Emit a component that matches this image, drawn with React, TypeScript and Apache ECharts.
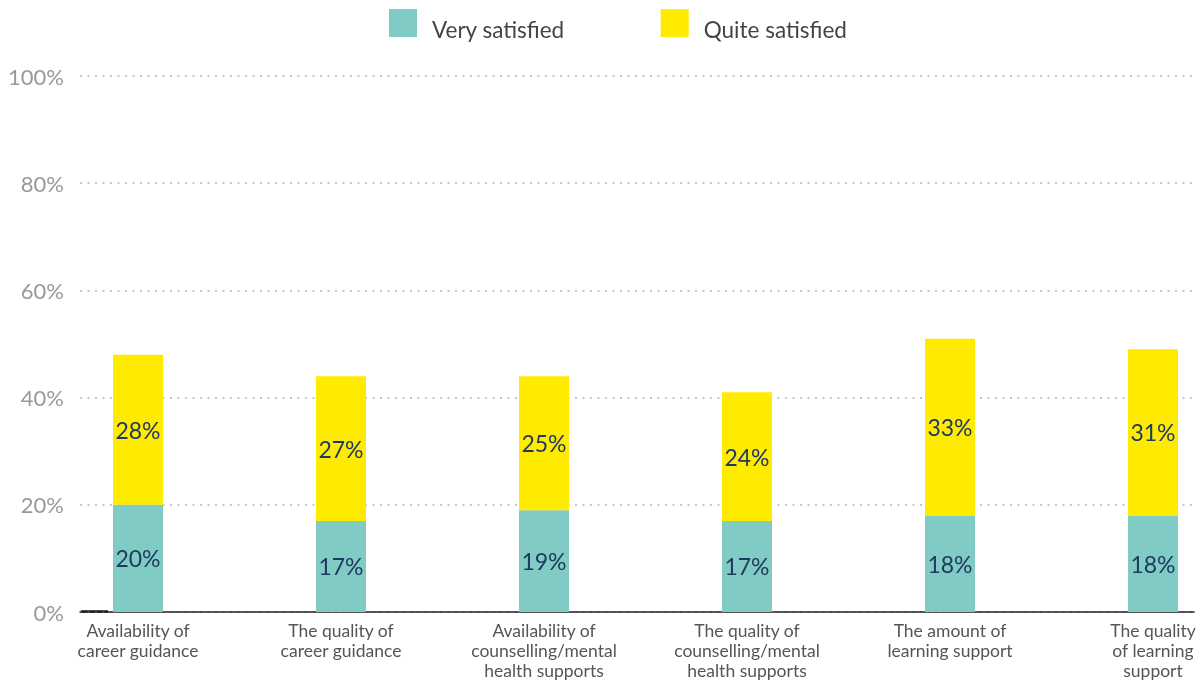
import React, { useEffect, useRef } from "react";
import * as echarts from "echarts";

const categories = [
  "Availability of\ncareer guidance",
  "The quality of\ncareer guidance",
  "Availability of\ncounselling/mental\nhealth supports",
  "The quality of\ncounselling/mental\nhealth supports",
  "The amount of\nlearning support",
  "The quality\nof learning\nsupport",
];
const verySatisfied = [20, 17, 19, 17, 18, 18];
const quiteSatisfied = [28, 27, 25, 24, 33, 31];
const yTicks = [0, 20, 40, 60, 80, 100];

const FONT = "Lato, 'Noto Sans', sans-serif";

export default function App() {
  const ref = useRef<HTMLDivElement>(null);
  useEffect(() => {
    if (!ref.current) return;
    const chart = echarts.init(ref.current, undefined, { renderer: "svg" });
    const labelStyle = {
      show: true,
      position: "inside" as const,
      formatter: "{c}%",
      color: "#1F3A60",
      fontSize: 23,
      fontFamily: FONT,
    };
    const yMin = yTicks[0];
    const yMax = yTicks[yTicks.length - 1];
    chart.setOption({
      animation: false,
      textStyle: { fontFamily: FONT },
      legend: {
        top: 4,
        left: 384,
        itemWidth: 28,
        itemHeight: 28,
        itemGap: 96,
        icon: "rect",
        formatter: "{t|{name}}",
        textStyle: {
          fontSize: 22.5,
          color: "#444",
          fontFamily: FONT,
          rich: {
            t: {
              fontSize: 22.5,
              color: "#444",
              fontFamily: FONT,
              padding: [12, 0, 0, 10],
            },
          },
        },
        data: ["Very satisfied", "Quite satisfied"],
      },
      grid: [
        {
          left: 80,
          right: 8,
          top: 76,
          bottom: 70,
          containLabel: false,
          outerBoundsMode: "none",
        },
        {
          left: 36.5,
          width: 1218,
          top: 76,
          height: 536,
          containLabel: false,
          outerBoundsMode: "none",
        },
      ],
      xAxis: [
        {
          type: "category",
          gridIndex: 0,
          data: [""],
          axisTick: { show: false },
          axisLabel: { show: false },
          axisLine: { show: true, lineStyle: { color: "#222", width: 1.5 } },
        },
        {
          type: "category",
          gridIndex: 1,
          data: categories,
          axisTick: { show: false },
          axisLine: { show: false },
          axisLabel: {
            interval: 0,
            color: "#555",
            fontSize: 17.5,
            lineHeight: 20,
            margin: 8,
            fontFamily: FONT,
          },
        },
      ],
      yAxis: [
        {
          type: "value",
          gridIndex: 0,
          min: yMin,
          max: yMax,
          interval: 20,
          axisLine: { show: false },
          axisTick: { show: false },
          axisLabel: {
            formatter: "{value}%",
            color: "#999",
            fontSize: 22,
            margin: 16,
            fontFamily: FONT,
          },
          splitLine: {
            show: true,
            lineStyle: { color: "#c8c8c8", width: 2, type: [2, 5.5] },
          },
        },
        {
          type: "value",
          gridIndex: 1,
          min: yMin,
          max: yMax,
          interval: 20,
          show: false,
          splitLine: { show: false },
        },
      ],
      graphic: [
        {
          type: "line",
          shape: { x1: 81, y1: 611.5, x2: 108, y2: 611.5 },
          style: { stroke: "#111", lineWidth: 2.5 },
        },
      ],
      series: [
        {
          name: "Very satisfied",
          type: "bar",
          xAxisIndex: 1,
          yAxisIndex: 1,
          stack: "total",
          barWidth: 50,
          itemStyle: { color: "#80CCC4" },
          label: labelStyle,
          data: verySatisfied,
        },
        {
          name: "Quite satisfied",
          type: "bar",
          xAxisIndex: 1,
          yAxisIndex: 1,
          stack: "total",
          barWidth: 50,
          itemStyle: { color: "#FFEB00" },
          label: labelStyle,
          data: quiteSatisfied,
        },
      ],
    });
    return () => chart.dispose();
  }, []);
  return (
    <div
      ref={ref}
      style={{ position: "fixed", left: 0, top: 0, width: 1202, height: 682 }}
    />
  );
}
